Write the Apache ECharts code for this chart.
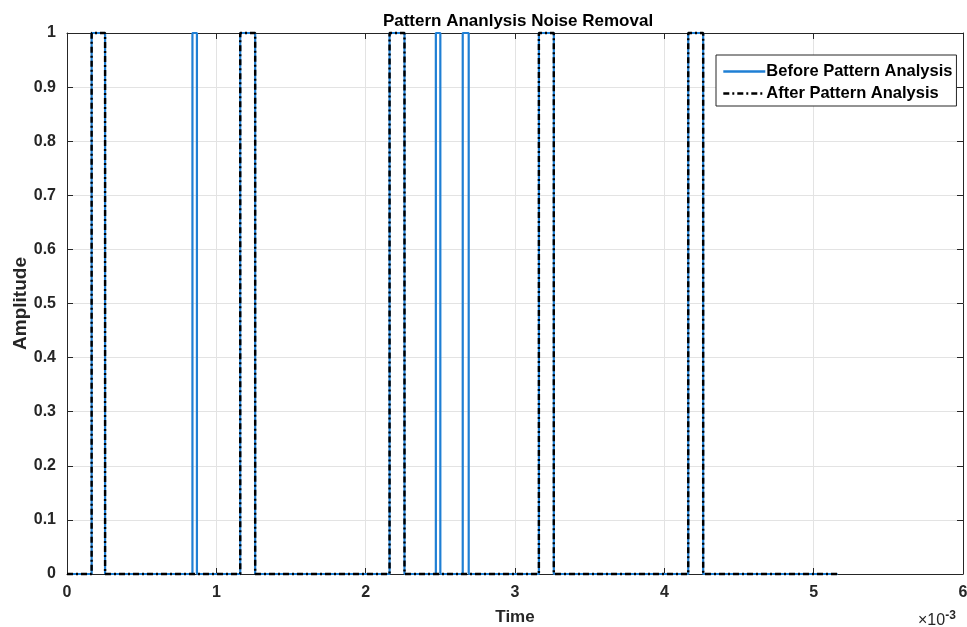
<!DOCTYPE html>
<html><head><meta charset="utf-8">
<script src="https://cdn.jsdelivr.net/npm/echarts@6/dist/echarts.min.js"></script>
<style>html,body{margin:0;padding:0;background:#fff}#c{width:967px;height:627px}</style>
</head><body><div id="c"></div>
<script>
// Times in units of 1e-3 s (axis shows ×10^-3)
const pulseStart = [0.165, 1.16, 2.16, 3.16, 4.16];
const pulseEnd   = [0.255, 1.26, 2.26, 3.26, 4.26];
const noiseStart = [0.84, 2.47, 2.65];
const noiseEnd   = [0.87, 2.50, 2.69];
const signalEnd = 5.16;
const xTicks = [0, 1, 2, 3, 4, 5, 6];
const yTicks = [0, 0.1, 0.2, 0.3, 0.4, 0.5, 0.6, 0.7, 0.8, 0.9, 1];

function squareWave(starts, ends) {
  const pts = [[0, 0]];
  const idx = starts.map((s, i) => [s, ends[i]]).sort((a, b) => a[0] - b[0]);
  idx.forEach(([s, e]) => { pts.push([s, 0], [s, 1], [e, 1], [e, 0]); });
  pts.push([signalEnd, 0]);
  return pts;
}
const afterData = squareWave(pulseStart, pulseEnd);
const beforeData = squareWave(pulseStart.concat(noiseStart), pulseEnd.concat(noiseEnd));

const FONT = 'Liberation Sans, Arial, sans-serif';
const AX = '#262626';
const chart = echarts.init(document.getElementById('c'), null, {renderer: 'canvas'});
chart.setOption({
  animation: false,
  backgroundColor: '#fff',
  title: {
    text: 'Pattern Ananlysis Noise Removal', left: 513, top: 8, textAlign: 'center',
    textStyle: {fontFamily: FONT, fontSize: 17, fontWeight: 'bold', color: '#000'}
  },
  grid: {left: 67, right: 4, top: 33, bottom: 53, containLabel: false, outerBoundsMode: 'none'},
  legend: {
    left: 716, top: 55, orient: 'vertical',
    backgroundColor: '#fff', borderColor: '#262626', borderWidth: 1, borderRadius: 0,
    padding: [8, 4, 4, 6], itemGap: 5, itemWidth: 42, itemHeight: 14,
    itemStyle: {opacity: 0},
    lineStyle: {width: 2.6},
    textStyle: {fontFamily: FONT, fontSize: 16.5, fontWeight: 'bold', color: '#000', padding: [0, 0, 0, -4]},
    data: ['Before Pattern Analysis', 'After Pattern Analysis']
  },
  xAxis: [{
    type: 'value', min: 0, max: 6, interval: 1, position: 'bottom',
    name: 'Time', nameLocation: 'middle', nameGap: 35,
    nameTextStyle: {fontFamily: FONT, fontSize: 17, fontWeight: 'bold', color: AX},
    axisLine: {show: true, onZero: false, lineStyle: {color: AX, width: 1}},
    axisTick: {show: true, inside: true, length: 6, lineStyle: {color: AX}},
    axisLabel: {fontFamily: FONT, fontSize: 16, fontWeight: 'bold', color: AX, margin: 11,
      formatter: v => String(v)},
    splitLine: {show: true, lineStyle: {color: '#e3e3e3', width: 1}}
  }, {
    type: 'value', min: 0, max: 6, interval: 1, position: 'top',
    axisLine: {show: true, onZero: false, lineStyle: {color: AX, width: 1}},
    axisTick: {show: true, inside: true, length: 6, lineStyle: {color: AX}},
    axisLabel: {show: false}, splitLine: {show: false}
  }],
  yAxis: [{
    type: 'value', min: 0, max: 1, interval: 0.1, position: 'left',
    name: 'Amplitude', nameLocation: 'middle', nameGap: 37, nameRotate: 90,
    nameMoveOverlap: false,
    nameTextStyle: {fontFamily: FONT, fontSize: 19, fontWeight: 'bold', color: AX},
    axisLine: {show: true, onZero: false, lineStyle: {color: AX, width: 1}},
    axisTick: {show: true, inside: true, length: 6, lineStyle: {color: AX}},
    axisLabel: {fontFamily: FONT, fontSize: 16, fontWeight: 'bold', color: AX, margin: 11,
      formatter: v => String(Math.round(v * 10) / 10)},
    splitLine: {show: true, lineStyle: {color: '#e3e3e3', width: 1}}
  }, {
    type: 'value', min: 0, max: 1, interval: 0.1, position: 'right',
    axisLine: {show: true, onZero: false, lineStyle: {color: AX, width: 1}},
    axisTick: {show: true, inside: true, length: 6, lineStyle: {color: AX}},
    axisLabel: {show: false}, splitLine: {show: false}
  }],
  series: [{
    name: 'Before Pattern Analysis', type: 'line', data: beforeData,
    showSymbol: false, symbol: 'none', clip: false,
    lineStyle: {color: '#1f7fd4', width: 2.2}, itemStyle: {color: '#1f7fd4'}, z: 2
  }, {
    name: 'After Pattern Analysis', type: 'line', data: afterData,
    showSymbol: false, symbol: 'none', clip: false,
    lineStyle: {color: '#000', width: 2.4, type: [6, 3, 2, 3]}, itemStyle: {color: '#000'}, z: 3
  }],
  graphic: [{
    type: 'text', left: 918, top: 610,
    style: {
      text: '×10{s|-3}',
      rich: {s: {fontFamily: FONT, fontSize: 12, fontWeight: 'bold', verticalAlign: 'top', padding: [0, 0, 10, 0], fill: AX}},
      fontFamily: FONT, fontSize: 16, fontWeight: 'normal', fill: AX
    }
  }]
});
</script></body></html>
